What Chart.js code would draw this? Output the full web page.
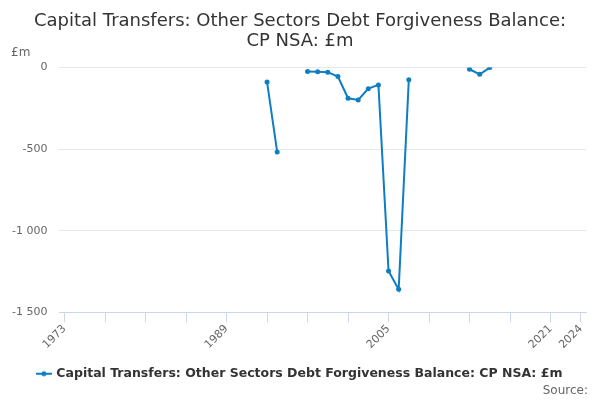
<!DOCTYPE html>
<html>
<head>
<meta charset="utf-8">
<script src="https://cdn.jsdelivr.net/npm/chart.js@4.4.1/dist/chart.umd.min.js"></script>
<style>
  html, body { margin: 0; padding: 0; background: #fff; }
  #wrap { width: 600px; height: 400px; }
</style>
</head>
<body>
<div id="wrap"><canvas id="chart"></canvas></div>
<script>
  /* --- Data --- */
  const YEARS = [1993, 1994, 1995, 1996, 1997, 1998, 1999, 2000, 2001, 2002, 2003, 2004,
                 2005, 2006, 2007, 2008, 2009, 2010, 2011, 2012, 2013, 2014, 2015];
  const VALUES = [-88, -517, null, null, -24, -26, -28, -55, -188, -198, -129, -106,
                  -1246, -1359, -75, null, null, null, null, null, -10, -41, 0];
  const X_TICKS = [1973, 1977, 1981, 1985, 1989, 1993, 1997, 2001, 2005, 2009, 2013, 2017, 2021, 2024];
  const X_LABELS = [1973, 1989, 2005, 2021, 2024];
  const Y_TICKS = [0, -500, -1000, -1500];

  const SERIES_NAME = 'Capital Transfers: Other Sectors Debt Forgiveness Balance: CP NSA: £m';
  const LINE_COLOR = '#0f7dc2';
  const FONT = "'DejaVu Sans', sans-serif";

  // legend marker: short line with a dot on it
  const marker = document.createElement('canvas');
  marker.width = 16;
  marker.height = 8;
  (function () {
    const c = marker.getContext('2d');
    c.strokeStyle = LINE_COLOR;
    c.lineWidth = 2;
    c.beginPath();
    c.moveTo(0, 4);
    c.lineTo(16, 4);
    c.stroke();
    c.fillStyle = LINE_COLOR;
    c.beginPath();
    c.arc(8, 4, 2.5, 0, Math.PI * 2);
    c.fill();
  })();

  function fmt(v) {
    const s = Math.abs(v).toString().replace(/\B(?=(\d{3})+(?!\d))/g, ' ');
    return (v < 0 ? '-' : '') + s;
  }

  // unit label above the y axis and the source line at the bottom right
  const extraText = {
    id: 'extraText',
    afterDraw(chart) {
      const { ctx, chartArea } = chart;
      ctx.save();
      ctx.font = '12px ' + FONT;
      ctx.fillStyle = '#666666';
      ctx.textBaseline = 'middle';
      ctx.textAlign = 'left';
      ctx.fillText('£m', 11, chartArea.top - 15);
      ctx.textAlign = 'right';
      ctx.fillText('Source:', 588, 391);
      ctx.restore();
    }
  };

  new Chart(document.getElementById('chart'), {
    type: 'line',
    data: {
      datasets: [{
        label: SERIES_NAME,
        data: YEARS.map((y, i) => ({ x: y, y: VALUES[i] })),
        borderColor: LINE_COLOR,
        backgroundColor: LINE_COLOR,
        borderWidth: 2,
        pointRadius: 2.5,
        pointHoverRadius: 4,
        pointBorderWidth: 0,
        spanGaps: false,
        tension: 0
      }]
    },
    options: {
      responsive: true,
      maintainAspectRatio: false,
      animation: false,
      layout: { padding: { left: 0, right: 0, top: 11.5, bottom: 10 } },
      plugins: {
        title: {
          display: true,
          text: ['Capital Transfers: Other Sectors Debt Forgiveness Balance:', 'CP NSA: £m'],
          color: '#333333',
          font: { family: FONT, size: 18, weight: 'normal', lineHeight: 1.1 },
          padding: { top: 0, bottom: 16.5 }
        },
        legend: {
          position: 'bottom',
          labels: {
            usePointStyle: true,
            pointStyle: marker,
            color: '#333333',
            font: { family: FONT, size: 12.5, weight: 'bold' },
            padding: 2
          }
        },
        tooltip: { enabled: false }
      },
      scales: {
        x: {
          type: 'linear',
          min: 1972.5,
          max: 2024.5,
          afterBuildTicks(axis) {
            axis.ticks = X_TICKS.map(v => ({ value: v }));
          },
          afterFit(axis) {
            axis.height += 14;
          },
          grid: {
            drawOnChartArea: false,
            drawTicks: true,
            tickLength: 10,
            color: '#ccd6eb'
          },
          border: { color: '#ccd6eb', width: 1 },
          ticks: {
            autoSkip: false,
            maxRotation: 45,
            minRotation: 45,
            color: '#666666',
            font: { family: FONT, size: 11 },
            padding: 0,
            callback: v => X_LABELS.includes(v) ? String(v) : ''
          }
        },
        y: {
          min: -1500,
          max: 0,
          afterBuildTicks(axis) {
            axis.ticks = Y_TICKS.map(v => ({ value: v }));
          },
          grid: { color: '#e6e6e6', drawTicks: false },
          border: { display: false },
          ticks: {
            color: '#666666',
            font: { family: FONT, size: 11 },
            padding: 12,
            callback: v => fmt(v)
          }
        },
        // empty right-hand axis, only keeps a margin on the right of the plot
        yRight: {
          position: 'right',
          min: -1500,
          max: 0,
          grid: { drawOnChartArea: false, drawTicks: false },
          border: { display: false },
          ticks: { display: false },
          afterFit(axis) {
            axis.width = 14;
          }
        }
      }
    },
    plugins: [extraText]
  });
</script>
</body>
</html>
